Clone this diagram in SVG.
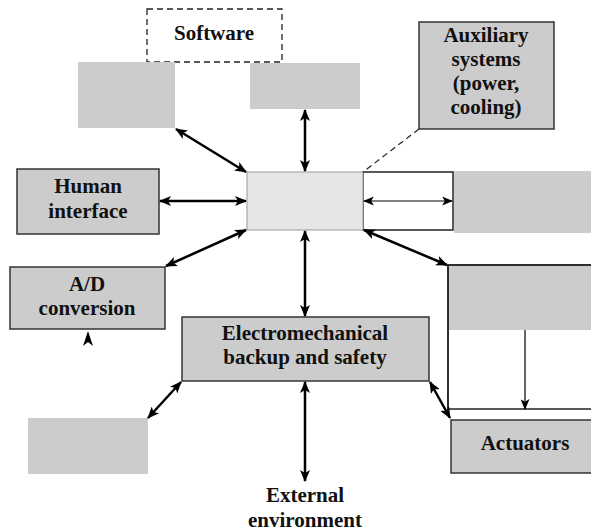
<svg xmlns="http://www.w3.org/2000/svg" width="591" height="532" viewBox="0 0 591 532">
<style>
text{font-family:"Liberation Serif","Times New Roman",serif;font-weight:bold;font-size:21px;fill:#111;text-anchor:middle}
.box{fill:#cccccc;stroke:#333;stroke-width:1.5}
.blank{fill:#cccccc;stroke:none}
.frame{fill:#fff;stroke:#222;stroke-width:1.5}
.thick{stroke:#000;stroke-width:2.5;fill:none;marker-start:url(#ah);marker-end:url(#ah)}
.thin{stroke:#000;stroke-width:1.2;fill:none}
</style>
<defs>
<marker id="ah" viewBox="0 0 12 10" refX="11" refY="5" markerWidth="12" markerHeight="10" markerUnits="userSpaceOnUse" orient="auto-start-reverse">
<path d="M0,0 L12,5 L0,10 L3,5 z" fill="#000"/>
</marker>
<marker id="ahs" viewBox="0 0 12 10" refX="11" refY="5" markerWidth="11" markerHeight="9" markerUnits="userSpaceOnUse" orient="auto-start-reverse">
<path d="M0,0 L12,5 L0,10 L3,5 z" fill="#000"/>
</marker>
</defs>
<g id="frames">
<rect class="frame" x="363" y="172" width="90" height="58"/>
<rect class="frame" x="448" y="265" width="160" height="144"/>
</g>
<g id="software">
<rect x="147" y="9" width="135" height="53" fill="none" stroke="#222" stroke-width="1.3" stroke-dasharray="6,4"/>
<text x="214" y="40">Software</text>
</g>
<g id="blank-top-left"><rect class="blank" x="78" y="62" width="97" height="66"/></g>
<g id="blank-top-mid"><rect class="blank" x="250" y="63" width="110" height="46"/></g>
<g id="auxiliary">
<rect class="box" x="419" y="22" width="135" height="107"/>
<text x="486" y="42">Auxiliary</text>
<text x="486" y="66">systems</text>
<text x="486" y="90">(power,</text>
<text x="486" y="114">cooling)</text>
</g>
<g id="center"><rect x="247" y="172" width="116" height="58" fill="#e6e6e6" stroke="#999" stroke-width="1"/></g>
<g id="blank-right"><rect class="blank" x="454" y="171" width="140" height="62"/></g>
<g id="blank-right-mid">
<rect class="blank" x="449" y="266" width="145" height="64"/>
<path d="M448,409 V265 H600" fill="none" stroke="#222" stroke-width="1.5"/>
</g>
<g id="human">
<rect class="box" x="17" y="169" width="142" height="65"/>
<text x="88" y="193">Human</text>
<text x="88" y="218">interface</text>
</g>
<g id="ad">
<rect class="box" x="10" y="267" width="155" height="62"/>
<text x="87" y="291">A/D</text>
<text x="87" y="315">conversion</text>
</g>
<g id="electromech">
<rect class="box" x="182" y="317" width="247" height="64"/>
<text x="305" y="340">Electromechanical</text>
<text x="305" y="364">backup and safety</text>
</g>
<g id="blank-bottom-left"><rect class="blank" x="28" y="418" width="120" height="56"/></g>
<g id="actuators">
<rect class="box" x="451" y="420" width="150" height="53"/>
<text x="525" y="450">Actuators</text>
</g>
<g id="external">
<text x="305" y="502">External</text>
<text x="305" y="527">environment</text>
</g>
<g id="connectors">
<line class="thick" x1="176" y1="129" x2="246" y2="172"/>
<line class="thick" x1="305" y1="110" x2="305" y2="171"/>
<line class="thick" x1="160" y1="201" x2="246" y2="201"/>
<line class="thick" x1="246" y1="230" x2="166" y2="266"/>
<line class="thick" x1="364" y1="230" x2="447" y2="265"/>
<line class="thick" x1="305" y1="231" x2="305" y2="316"/>
<line class="thick" x1="181" y1="382" x2="148" y2="418"/>
<line class="thick" x1="430" y1="382" x2="450" y2="418"/>
<line class="thick" x1="305" y1="382" x2="305" y2="481"/>
<line class="thin" x1="364" y1="201" x2="452" y2="201" marker-start="url(#ahs)" marker-end="url(#ahs)"/>
<line class="thin" x1="525" y1="330" x2="525" y2="409" marker-end="url(#ahs)"/>
<line x1="419" y1="129" x2="363" y2="172" stroke="#222" stroke-width="1.2" stroke-dasharray="6,4"/>
<path d="M88,331 L93,346 L88,342 L83,346 z" fill="#000"/>
</g>
</svg>
